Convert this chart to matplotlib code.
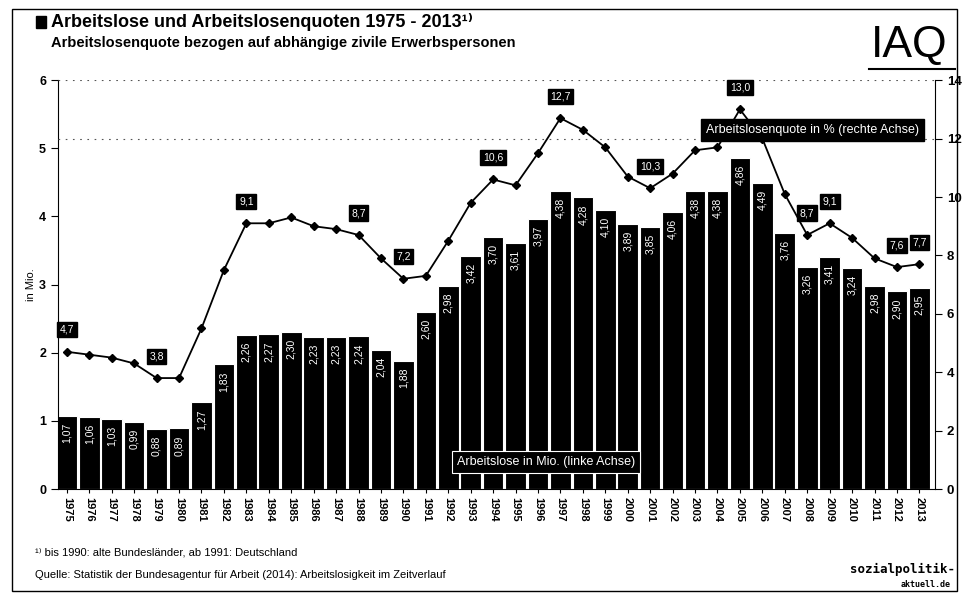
import matplotlib
matplotlib.use('Agg')
import matplotlib.pyplot as plt
from matplotlib.patches import Rectangle

plt.rcParams['font.family'] = ['Liberation Sans Narrow', 'Liberation Sans', 'DejaVu Sans']

years = list(range(1975, 2014))
arbeitslose = [1.07, 1.06, 1.03, 0.99, 0.88, 0.89, 1.27, 1.83, 2.26, 2.27,
               2.30, 2.23, 2.23, 2.24, 2.04, 1.88, 2.60, 2.98, 3.42, 3.70,
               3.61, 3.97, 4.38, 4.28, 4.10, 3.89, 3.85, 4.06, 4.38, 4.38,
               4.86, 4.49, 3.76, 3.26, 3.41, 3.24, 2.98, 2.90, 2.95]
quote = [4.7, 4.6, 4.5, 4.3, 3.8, 3.8, 5.5, 7.5, 9.1, 9.1,
         9.3, 9.0, 8.9, 8.7, 7.9, 7.2, 7.3, 8.5, 9.8, 10.6,
         10.4, 11.5, 12.7, 12.3, 11.7, 10.7, 10.3, 10.8, 11.6, 11.7,
         13.0, 12.0, 10.1, 8.7, 9.1, 8.6, 7.9, 7.6, 7.7]
# years whose rate gets a black label box
quote_label_years = [1975, 1979, 1983, 1988, 1990, 1994, 1997, 2001, 2005, 2008, 2009, 2012, 2013]

def de(v, fmt):
    return format(v, fmt).replace('.', ',')

fig = plt.figure(figsize=(9.65, 6.03), dpi=100)
ax = fig.add_axes([0.060, 0.189, 0.909, 0.678])
ax2 = ax.twinx()

x = list(range(len(years)))
ax.bar(x, arbeitslose, width=0.92, color='black', edgecolor='white', linewidth=0.8, zorder=2)
for xi, v in zip(x, arbeitslose):
    ax.text(xi, v - 0.1, de(v, '.2f'), rotation=90, ha='center', va='top',
            color='white', fontsize=7.5, zorder=3)

ax.set_ylim(0, 6)
ax.set_xlim(-0.4, len(years) - 0.3)
ax.set_yticks(range(0, 7))
ax.set_xticks(x)
ax.set_xticklabels([str(y) for y in years], rotation=-90, fontsize=8, fontweight='bold')
ax.tick_params(axis='y', labelsize=9, length=5, width=0.8)
ax.tick_params(axis='x', length=3, width=0.8, pad=3)
for lab in ax.get_yticklabels():
    lab.set_fontweight('bold')
ax.set_ylabel('in Mio.', fontsize=8, labelpad=2)
for s in ['top', 'right']:
    ax.spines[s].set_visible(False)

ax2.set_ylim(0, 14)
ax2.set_yticks(range(0, 15, 2))
ax2.tick_params(axis='y', labelsize=9.5, length=5, width=0.8)
for lab in ax2.get_yticklabels():
    lab.set_fontweight('bold')
for s in ['top', 'left', 'bottom']:
    ax2.spines[s].set_visible(False)
for g in [12, 14]:
    ax2.axhline(g, color='#555555', linestyle=(0, (1.5, 5)), linewidth=0.8, zorder=1)

ax2.plot(x, quote, color='black', linewidth=1.3, marker='D', markersize=4, zorder=4)
for xi, y, v in zip(x, years, quote):
    if y in quote_label_years:
        ax2.text(xi, v + 0.75, de(v, '.1f'), ha='center', va='center', color='white',
                 fontsize=7.5, zorder=6,
                 bbox=dict(boxstyle='square,pad=0.25', fc='black', ec='black'))

ax.text(0.556, 0.066, 'Arbeitslose in Mio. (linke Achse)', transform=ax.transAxes,
        ha='center', va='center', color='white', fontsize=9, zorder=6,
        bbox=dict(boxstyle='square,pad=0.4', fc='black', ec='white', lw=0.8))
ax2.text(0.86, 0.878, 'Arbeitslosenquote in % (rechte Achse)', transform=ax2.transAxes,
         ha='center', va='center', color='white', fontsize=9, zorder=7,
         bbox=dict(boxstyle='square,pad=0.4', fc='black', ec='black'))

# titles
fig.patches.append(Rectangle((0.037, 0.953), 0.011, 0.021, transform=fig.transFigure,
                             color='black'))
fig.text(0.053, 0.963, 'Arbeitslose und Arbeitslosenquoten 1975 - 2013\u00b9\u207e', fontsize=13,
         fontweight='bold', va='center', ha='left')
fig.text(0.053, 0.928, 'Arbeitslosenquote bezogen auf abh\u00e4ngige zivile Erwerbspersonen',
         fontsize=10.5, fontweight='bold', va='center', ha='left')
fig.text(0.902, 0.925, 'IAQ', fontsize=32, va='center', ha='left', family=['Liberation Sans'])
fig.add_artist(plt.Line2D([0.9, 0.99], [0.885, 0.885], transform=fig.transFigure,
                          color='black', linewidth=1.5))

fig.text(0.036, 0.083, '\u00b9\u207e bis 1990: alte Bundesl\u00e4nder, ab 1991: Deutschland',
         fontsize=8, va='center', ha='left')
fig.text(0.036, 0.047, 'Quelle: Statistik der Bundesagentur f\u00fcr Arbeit (2014): '
         'Arbeitslosigkeit im Zeitverlauf', fontsize=8, va='center', ha='left')
fig.text(0.99, 0.055, 'sozialpolitik-', fontsize=9, fontweight='bold', va='center',
         ha='right', family=['DejaVu Sans Mono'])
fig.text(0.985, 0.03, 'aktuell.de', fontsize=6, fontweight='bold', va='center',
         ha='right', family=['DejaVu Sans Mono'])

# outer frame
fig.add_artist(Rectangle((0.012, 0.02), 0.98, 0.965, transform=fig.transFigure,
                         fill=False, ec='black', lw=1.0))

fig.savefig('out.png', dpi=100)
